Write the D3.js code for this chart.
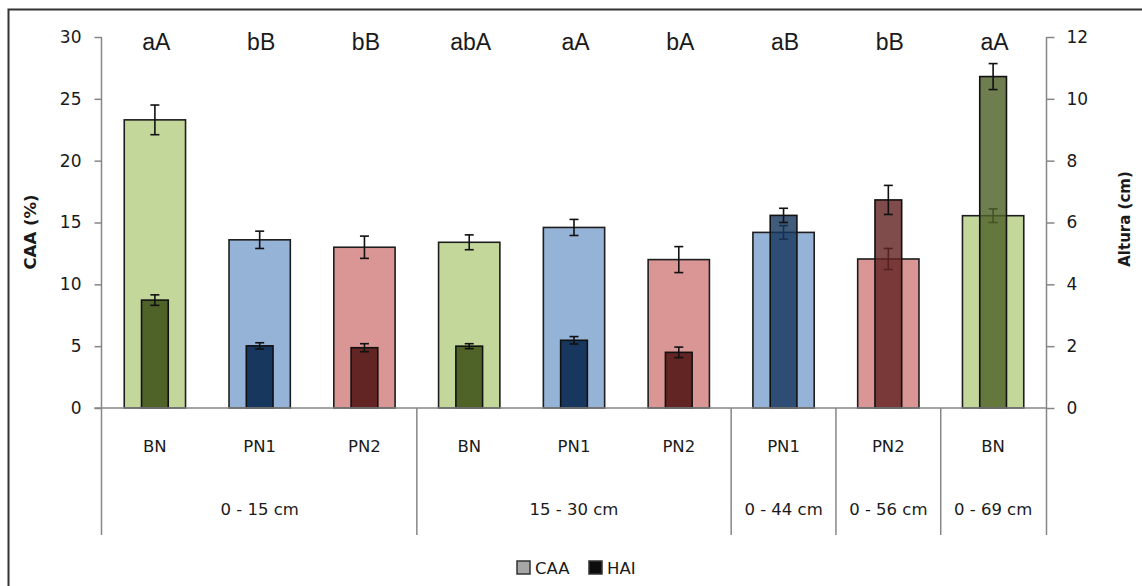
<!DOCTYPE html>
<html>
<head>
<meta charset="utf-8">
<script src="https://cdn.jsdelivr.net/npm/d3@7"></script>
<style>
  html, body { margin: 0; padding: 0; background: #fff; }
  svg { display: block; }
  text { font-family: "DejaVu Sans", sans-serif; fill: #1a1a1a; }
</style>
</head>
<body>
<svg id="chart" width="1142" height="586"></svg>
<script>
// Treatments along the x axis, grouped by sampling depth
const treatments = ["BN", "PN1", "PN2", "BN", "PN1", "PN2", "PN1", "PN2", "BN"];
const depths = ["0 - 15 cm", "0 - 15 cm", "0 - 15 cm", "15 - 30 cm", "15 - 30 cm", "15 - 30 cm", "0 - 44 cm", "0 - 56 cm", "0 - 69 cm"];

// CAA (%) on the left axis, with standard error
const caa = [23.3, 13.6, 13.0, 13.4, 14.6, 12.0, 14.2, 12.05, 15.55];
const caaErr = [1.2, 0.7, 0.9, 0.6, 0.65, 1.05, 0.55, 0.85, 0.55];

// HAI, plant height (cm) on the right axis, with standard error
const hai = [3.49, 2.01, 1.95, 2.0, 2.19, 1.8, 6.23, 6.73, 10.72];
const haiErr = [0.17, 0.1, 0.13, 0.08, 0.12, 0.17, 0.23, 0.47, 0.42];

// Significance letters above each treatment
const letters = ["aA", "bB", "bB", "abA", "aA", "bA", "aB", "bB", "aA"];

const leftTicks = [0, 5, 10, 15, 20, 25, 30];
const rightTicks = [0, 2, 4, 6, 8, 10, 12];

const lightFill = { BN: "#c4d79b", PN1: "#95b3d7", PN2: "#da9694" };
const darkFill = { BN: "#4f6228", PN1: "#17375e", PN2: "#632523" };

const svg = d3.select("#chart");

// Chart frame
svg.append("rect")
  .attr("x", 8.5).attr("y", 9.5)
  .attr("width", 1150).attr("height", 600)
  .attr("fill", "none").attr("stroke", "#333").attr("stroke-width", 2);

const axisLeftX = 101.5, axisRightX = 1046.5, baseY = 408, topY = 37, labelBottom = 535;

const x = d3.scaleBand().domain(d3.range(treatments.length)).range([102.5, 1045.5]).paddingInner(0);
const yL = d3.scaleLinear().domain([0, 30]).range([baseY, topY]);
const yR = d3.scaleLinear().domain([0, 12]).range([baseY, topY]);

const axisColor = "#868686";
const bw = x.bandwidth();
const wideW = bw * 0.585, narrowW = bw * 0.255;
const cx = i => x(i) + bw / 2;

// Depth groups (runs of identical depth labels)
const groups = [];
depths.forEach((d, i) => {
  const last = groups[groups.length - 1];
  if (last && last.label === d) last.end = i; else groups.push({ label: d, start: i, end: i });
});

// Axes
const gL = svg.append("g").attr("transform", `translate(${axisLeftX},0)`)
  .call(d3.axisLeft(yL).tickValues(leftTicks).tickSize(7).tickPadding(13).tickFormat(d3.format("d")));
const gR = svg.append("g").attr("transform", `translate(${axisRightX},0)`)
  .call(d3.axisRight(yR).tickValues(rightTicks).tickSize(8).tickPadding(12).tickFormat(d3.format("d")));
[gL, gR].forEach(g => {
  g.select(".domain").remove();
  g.selectAll(".tick line").attr("stroke", axisColor).attr("stroke-width", 1.5);
  g.selectAll(".tick text").attr("font-size", 17).attr("font-family", "DejaVu Sans").attr("fill", "#1a1a1a");
});

// Vertical axis lines, running through the category label area
svg.append("line").attr("x1", axisLeftX).attr("x2", axisLeftX).attr("y1", topY).attr("y2", labelBottom)
  .attr("stroke", axisColor).attr("stroke-width", 1.5);
svg.append("line").attr("x1", axisRightX).attr("x2", axisRightX).attr("y1", topY).attr("y2", labelBottom)
  .attr("stroke", axisColor).attr("stroke-width", 1.5);

// Group separators below the baseline
groups.slice(1).forEach(g => {
  const sx = x(g.start);
  svg.append("line").attr("x1", sx).attr("x2", sx).attr("y1", baseY).attr("y2", labelBottom)
    .attr("stroke", axisColor).attr("stroke-width", 1.5);
});

// Bars
const bars = svg.append("g");
const errorBar = (g, xc, yTop, yBot, color) => {
  g.append("line").attr("x1", xc).attr("x2", xc).attr("y1", yTop).attr("y2", yBot)
    .attr("stroke", color).attr("stroke-width", 1.6);
  [yTop, yBot].forEach(yy => g.append("line")
    .attr("x1", xc - 4.5).attr("x2", xc + 4.5).attr("y1", yy).attr("y2", yy)
    .attr("stroke", color).attr("stroke-width", 1.6));
};

treatments.forEach((t, i) => {
  const g = bars.append("g");
  const group = groups.find(gr => i >= gr.start && i <= gr.end);
  const single = group.start === group.end;
  // CAA bar
  g.append("rect")
    .attr("x", cx(i) - wideW / 2).attr("y", yL(caa[i]))
    .attr("width", wideW).attr("height", yL(0) - yL(caa[i]))
    .attr("fill", lightFill[t]).attr("stroke", "#1e1e1e").attr("stroke-width", 1.6);
  const caaErrG = g.append("g");
  // HAI bar
  g.append("rect")
    .attr("x", cx(i) - narrowW / 2).attr("y", yR(hai[i]))
    .attr("width", narrowW).attr("height", yR(0) - yR(hai[i]))
    .attr("fill", darkFill[t]).attr("fill-opacity", single ? 0.82 : 1)
    .attr("stroke", "#111").attr("stroke-width", 1.6);
  const haiErrG = g.append("g");
  errorBar(single ? caaErrG : g, cx(i), yL(caa[i] + caaErr[i]), yL(caa[i] - caaErr[i]), "#111");
  errorBar(haiErrG, cx(i), yR(hai[i] + haiErr[i]), yR(hai[i] - haiErr[i]), "#111");
});

// Baseline
svg.append("line").attr("x1", axisLeftX - 7).attr("x2", axisRightX).attr("y1", baseY).attr("y2", baseY)
  .attr("stroke", axisColor).attr("stroke-width", 1.5);

// Significance letters
svg.append("g").selectAll("text").data(letters).join("text")
  .attr("x", (d, i) => cx(i) + 1.5).attr("y", 50)
  .attr("text-anchor", "middle")
  .style("font-family", "'Liberation Sans', Arial, sans-serif")
  .attr("font-size", 23)
  .text(d => d);

// Treatment labels
svg.append("g").selectAll("text").data(treatments).join("text")
  .attr("x", (d, i) => cx(i)).attr("y", 452)
  .attr("text-anchor", "middle").attr("font-size", 16.5)
  .text(d => d);

// Depth labels
svg.append("g").selectAll("text").data(groups).join("text")
  .attr("x", d => (x(d.start) + x(d.end) + bw) / 2).attr("y", 515)
  .attr("text-anchor", "middle").attr("font-size", 16.5)
  .text(d => d.label);

// Axis titles
svg.append("text")
  .attr("transform", "translate(36,232) rotate(-90)")
  .attr("text-anchor", "middle").attr("font-weight", "bold").attr("font-size", 16.5)
  .text("CAA (%)");
svg.append("text")
  .attr("transform", "translate(1130,219) rotate(-90)")
  .attr("text-anchor", "middle").attr("font-weight", "bold").attr("font-size", 15)
  .text("Altura (cm)");

// Legend
const legend = svg.append("g");
const legendItems = [
  { label: "CAA", fill: "#a6a6a6", x: 517 },
  { label: "HAI", fill: "#0d0d0d", x: 589 }
];
legendItems.forEach(it => {
  legend.append("rect").attr("x", it.x).attr("y", 561).attr("width", 13).attr("height", 13)
    .attr("fill", it.fill).attr("stroke", "#333").attr("stroke-width", 1.5);
  legend.append("text").attr("x", it.x + 18).attr("y", 574).attr("font-size", 16.5).text(it.label);
});
</script>
</body>
</html>
